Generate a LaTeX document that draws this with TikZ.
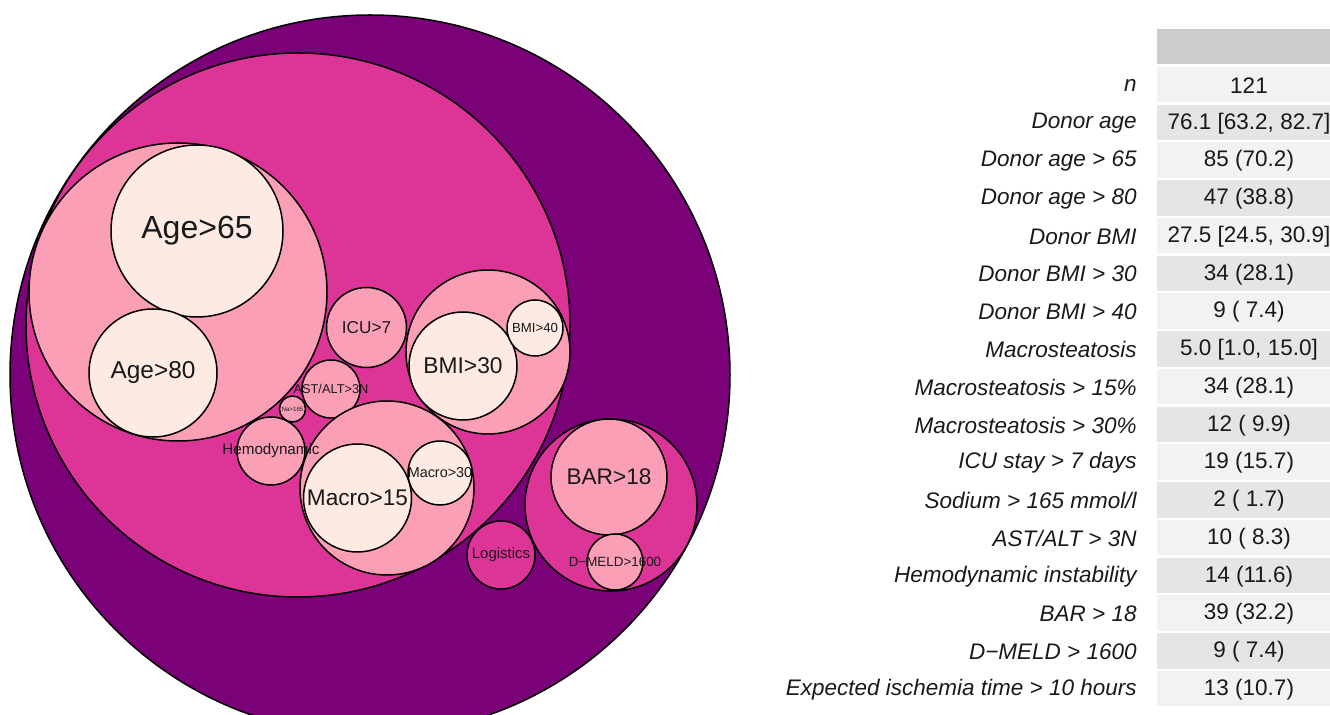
\documentclass[tikz,border=0pt]{standalone}
\usepackage{fontspec}
\setmainfont{Liberation Sans}
\definecolor{cPurple}{HTML}{7A0177}
\definecolor{cMag}{HTML}{DD3497}
\definecolor{cPink}{HTML}{FA9FB5}
\definecolor{cCream}{HTML}{FDEAE2}
\definecolor{cHead}{HTML}{CCCCCC}
\definecolor{cLight}{HTML}{F2F2F2}
\definecolor{cDark}{HTML}{E5E5E5}
\newcommand\mybub[5]{%
  \node[bub, fill=#5, minimum size=#4pt] (#1) at (#2,#3) {};}
\newcommand\mylbl[3]{%
  \node[lbl, font=\fontsize{#2}{#2}\selectfont] (#1-t) at (#1.center) {#3};}
\begin{document}
\begin{tikzpicture}[x=0.5pt,y=-0.5pt,
  bub/.style={circle, draw=black, line width=0.75pt, inner sep=0pt, outer sep=0pt},
  lbl/.style={inner sep=0pt, text=black!90},
  cell/.style={inner sep=0pt, outer sep=0pt, minimum width=94pt, minimum height=17.75pt, anchor=north west},
  rowlbl/.style={anchor=east, inner sep=0pt, font=\fontsize{11.25}{12}\selectfont\itshape, text=black!90},
  val/.style={inner sep=0pt, font=\fontsize{11.25}{12}\selectfont, text=black!90}]
\useasboundingbox (0,0) rectangle (1330,715);
\clip (0,0) rectangle (1330,715);
% circles
\mybub{root}{370}{375}{360}{cPurple}
\mybub{main}{298}{325}{272}{cMag}
\mybub{agep}{178}{292}{149}{cPink}
\mybub{age65}{197}{231}{86}{cCream}
\mybub{age80}{153}{373}{64}{cCream}
\mybub{icu}{366.5}{327.5}{40}{cPink}
\mybub{bmip}{488}{352}{82}{cPink}
\mybub{bmi30}{463}{366}{54}{cCream}
\mybub{bmi40}{535}{328}{28}{cCream}
\mybub{ast}{331}{389}{29}{cPink}
\mybub{na}{292.5}{409}{13}{cPink}
\mybub{hemo}{271}{451}{34}{cPink}
\mybub{macp}{387}{488}{87}{cPink}
\mybub{mac15}{357.5}{498}{54}{cCream}
\mybub{mac30}{440}{473}{32}{cCream}
\mybub{barp}{611}{505}{86}{cMag}
\mybub{bar}{609}{477}{58}{cPink}
\mybub{dmeld}{615}{562}{28}{cPink}
\mybub{logi}{501}{555}{34}{cMag}
% labels
\mylbl{age65}{16}{Age>65}
\mylbl{age80}{12.2}{Age>80}
\mylbl{icu}{8.6}{ICU>7}
\mylbl{bmi30}{11.4}{BMI>30}
\mylbl{bmi40}{6.6}{BMI>40}
\mylbl{ast}{6.4}{AST/ALT>3N}
\mylbl{na}{3.1}{Na>165}
\mylbl{hemo}{7.6}{Hemodynamic}
\mylbl{mac15}{11.3}{Macro>15}
\mylbl{mac30}{7.2}{Macro>30}
\mylbl{bar}{11.3}{BAR>18}
\mylbl{dmeld}{6.7}{D−MELD>1600}
\mylbl{logi}{7.5}{Logistics}
% table
\node[cell, fill=cHead, minimum height=17.4pt] (head) at (1157,29.25) {};
\foreach \i/\lab/\v in {0/n/121,
  1/Donor age/{76.1 [63.2, 82.7]},
  2/Donor age > 65/85 (70.2),
  3/Donor age > 80/47 (38.8),
  4/Donor BMI/{27.5 [24.5, 30.9]},
  5/Donor BMI > 30/34 (28.1),
  6/Donor BMI > 40/9 ( 7.4),
  7/Macrosteatosis/{5.0 [1.0, 15.0]},
  8/Macrosteatosis > 15\%/34 (28.1),
  9/Macrosteatosis > 30\%/12 ( 9.9),
  10/ICU stay > 7 days/19 (15.7),
  11/{Sodium > 165 mmol/l}/2 ( 1.7),
  12/{AST/ALT > 3N}/10 ( 8.3),
  13/Hemodynamic instability/14 (11.6),
  14/BAR > 18/39 (32.2),
  15/D−MELD > 1600/9 ( 7.4),
  16/Expected ischemia time > 10 hours/13 (10.7)}{
  \pgfmathsetmacro\yt{67+37.75*\i}
  \pgfmathsetmacro\yc{85.5+37.75*\i}
  \pgfmathtruncatemacro\rowpar{mod(\i,2)}
  \ifnum\rowpar=0 \def\cc{cLight}\else\def\cc{cDark}\fi
  \node[cell, fill=\cc] (c\i) at (1157,\yt) {};
  \node[val] (v\i) at (1249,\yc) {\v};
  \node[rowlbl] (l\i) at (1137,\yc) {\lab};
}
\end{tikzpicture}
\end{document}
